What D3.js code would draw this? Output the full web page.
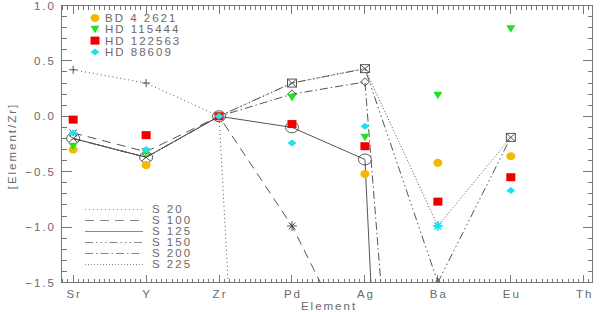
<!DOCTYPE html>
<html><head><meta charset="utf-8">
<script src="https://cdn.jsdelivr.net/npm/d3@7"></script>
<style>
html,body{margin:0;padding:0;background:#fff;}
text{font-family:"Liberation Sans",Arial,sans-serif;fill:#6a6a6a;}
</style></head>
<body><svg id="c" width="600" height="312"></svg>
<script>
// ---- data ----
const elements = ["Sr","Y","Zr","Pd","Ag","Ba","Eu","Th"];
const yTicks = [1.0, 0.5, 0.0, -0.5, -1.0, -1.5];
const yTickLabels = ["1.0","0.5","0.0","\u22120.5","\u22121.0","\u22121.5"];

const obsNames = ["BD 4 2621","HD 115444","HD 122563","HD 88609"];
const bd4_2621  = [-0.30, -0.44, 0.00, null, -0.52, -0.42, -0.36, null];
const hd115444  = [-0.27, -0.33, 0.00, 0.17, -0.19,  0.19,  0.79, null];
const hd122563  = [-0.03, -0.17, 0.00, -0.07, -0.27, -0.77, -0.55, null];
const hd88609   = [-0.15, -0.30, 0.00, -0.24, -0.09, -0.99, -0.67, null];

const modelNames = ["S 20","S 100","S 125","S 150","S 200","S 225"];
const s20  = [0.42, 0.30, 0.00, -12.0, null, null, null, null];
const s100 = [-0.15, -0.32, 0.00, -0.99, -2.30, null, null, null];
const s125 = [-0.20, -0.37, 0.00, -0.10, -0.39, -14.0, null, null];
const s150 = [-0.20, -0.37, 0.00, 0.30, 0.43, -1.50, -0.19, null];
const s200 = [-0.20, -0.37, 0.00, 0.20, 0.31, -8.0, null, null];
const s225 = [-0.20, -0.37, 0.00, 0.30, 0.43, -0.99, -0.19, null];

// ---- styles ----
const L=61.5, R=592.5, T=5.5, B=282.5;
const svg = d3.select("#c");
const x = d3.scaleLinear().domain([-0.16, 7.12]).range([L, R]);
const y = d3.scaleLinear().domain([-1.5, 1.0]).range([B, T]);
const axisCol = "#777";
const lineCol = "#555";

const obsSeries = [
  {name:obsNames[0], vals:bd4_2621, sym:"circle",   col:"#f5b800"},
  {name:obsNames[1], vals:hd115444, sym:"tri",      col:"#22e022"},
  {name:obsNames[2], vals:hd122563, sym:"square",   col:"#ee0000"},
  {name:obsNames[3], vals:hd88609,  sym:"diamond",  col:"#22dfee"}
];
const models = [
  {name:modelNames[0], vals:s20,  dash:"1,3",  marks:["plus","plus"]},
  {name:modelNames[1], vals:s100, dash:"9,6",  marks:["x","x",null,"star"]},
  {name:modelNames[2], vals:s125, dash:null,   marks:["circle","circle","circle","circle","circle"]},
  {name:modelNames[3], vals:s150, dash:"8,3,1.5,3,1.5,3,1.5,3", marks:[null,null,null,"square","square","tri","square"]},
  {name:modelNames[4], vals:s200, dash:"8,3,1.5,3", marks:[null,null,null,"diamond","diamond"]},
  {name:modelNames[5], vals:s225, dash:"1,2",  marks:["x","x",null,"x","x","cstar","x"]}
];

svg.append("defs").append("clipPath").attr("id","clip")
  .append("rect").attr("x",L).attr("y",T).attr("width",R-L).attr("height",B-T);

// ---- axes frame ----
const ax = svg.append("g").attr("stroke",axisCol).attr("stroke-width",1).attr("fill","none")
  .attr("shape-rendering","crispEdges");
ax.append("rect").attr("x",L).attr("y",T).attr("width",R-L).attr("height",B-T);
const rx = v => Math.round(x(v)-0.5)+0.5;
const ry = v => Math.round(y(v)-0.5)+0.5;
for (let i=0;i<elements.length;i++){
  const px = rx(i);
  ax.append("line").attr("x1",px).attr("x2",px).attr("y1",B).attr("y2",B-8);
  ax.append("line").attr("x1",px).attr("x2",px).attr("y1",T).attr("y2",T+8);
}
const nMinor = 14;
for (let k=-2; k<=7*nMinor+1; k++){
  const v = k/nMinor;
  if (v < -0.16 || v > 7.12) continue;
  const px = rx(v);
  ax.append("line").attr("x1",px).attr("x2",px).attr("y1",B).attr("y2",B-4);
  ax.append("line").attr("x1",px).attr("x2",px).attr("y1",T).attr("y2",T+4);
}
yTicks.forEach(v=>{
  const py=ry(v);
  ax.append("line").attr("x1",L).attr("x2",L+10).attr("y1",py).attr("y2",py);
  ax.append("line").attr("x1",R).attr("x2",R-10).attr("y1",py).attr("y2",py);
});
for (let k=-15;k<=10;k++){
  const py=ry(k/10);
  ax.append("line").attr("x1",L).attr("x2",L+5).attr("y1",py).attr("y2",py);
  ax.append("line").attr("x1",R).attr("x2",R-5).attr("y1",py).attr("y2",py);
}
const txt = svg.append("g").style("font-size","11.5px").style("letter-spacing","2px");
yTicks.forEach((v,i)=>{
  txt.append("text").attr("x",56).attr("y",y(v)+4).attr("text-anchor","end").text(yTickLabels[i]);
});
elements.forEach((e,i)=>{
  txt.append("text").attr("x",x(i)+1).attr("y",298).attr("text-anchor","middle").text(e);
});
txt.append("text").attr("x",329).attr("y",310).attr("text-anchor","middle").text("Element");
txt.append("text").attr("transform","translate(16,146) rotate(-90)").attr("text-anchor","middle").text("[Element/Zr]");

// ---- symbols ----
function drawSym(g, type, cx, cy, col, filled){
  const s = g.append("g").attr("transform",`translate(${cx},${cy})`);
  const st = filled ? {fill:col, stroke:"none"} : {fill:"none", stroke:col, "stroke-width":0.9};
  const ap = (el)=>{ for (const k in st) el.attr(k, st[k]); return el; };
  switch(type){
    case "circle": filled ? ap(s.append("ellipse").attr("rx",4.5).attr("ry",4)) : ap(s.append("ellipse").attr("rx",6.5).attr("ry",5.5)); break;
    case "square": ap(s.append("rect").attr("x",-4.5).attr("y",-4).attr("width",9).attr("height",8)); break;
    case "tri": filled ? ap(s.append("path").attr("d","M-4.5,-3.5L4.5,-3.5L0,4Z"))
                       : ap(s.append("path").attr("d","M-4,3L4,3L0,-4Z")); break;
    case "diamond": filled ? ap(s.append("path").attr("d","M-4.5,0L0,-3.5L4.5,0L0,3.5Z"))
                           : ap(s.append("path").attr("d","M-4.5,0L0,-4L4.5,0L0,4Z")); break;
    case "plus": ap(s.append("path").attr("d","M-4,0H4M0,-4V4")); break;
    case "x": ap(s.append("path").attr("d","M-4,-3.5L4,3.5M-4,3.5L4,-3.5")); break;
    case "star": ap(s.append("path").attr("d","M-5,0H5M0,-5V5M-3.5,-3.5L3.5,3.5M-3.5,3.5L3.5,-3.5")); break;
    case "cstar": s.append("path").attr("d","M-5,0H5M0,-5V5M-3.5,-3.5L3.5,3.5M-3.5,3.5L3.5,-3.5")
                    .attr("stroke","#22dfee").attr("stroke-width",1.6).attr("fill","none"); break;
  }
}

// ---- model lines ----
const plot = svg.append("g").attr("clip-path","url(#clip)");
const line = d3.line().defined(d=>d.v!==null).x(d=>x(d.i)).y(d=>y(d.v));
models.forEach(m=>{
  const pts = m.vals.map((v,i)=>({i,v}));
  plot.append("path").attr("d",line(pts)).attr("fill","none")
    .attr("stroke",lineCol).attr("stroke-width",1)
    .attr("stroke-dasharray",m.dash);
});
models.forEach(m=>{
  m.marks.forEach((t,i)=>{
    if (!t || m.vals[i]===null) return;
    drawSym(plot, t, x(i), y(m.vals[i]), "#444", false);
  });
});

// ---- observations ----
obsSeries.forEach(o=>{
  o.vals.forEach((v,i)=>{ if (v!==null) drawSym(svg, o.sym, x(i), y(v), o.col, true); });
});

// ---- legends ----
obsSeries.forEach((o,k)=>{
  const ly = 18 + k*11.3;
  drawSym(svg, o.sym, 95, ly, o.col, true);
  txt.append("text").attr("x",105).attr("y",ly+4).text(o.name);
});
models.forEach((m,k)=>{
  const ly = 209 + k*11;
  svg.append("line").attr("x1",85).attr("x2",143).attr("y1",ly+0.5).attr("y2",ly+0.5)
    .attr("stroke","#888").attr("stroke-width",1).attr("stroke-dasharray",m.dash);
  txt.append("text").attr("x",152).attr("y",ly+4).text(m.name);
});
</script>
</body></html>
